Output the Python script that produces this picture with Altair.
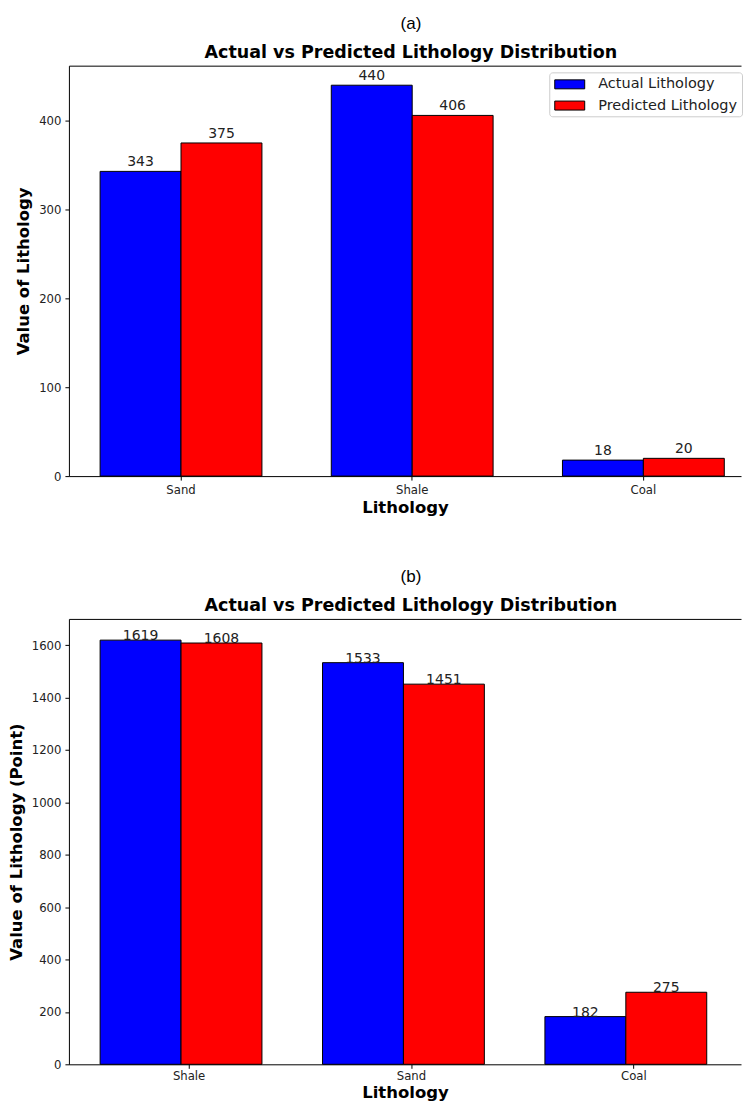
import altair as alt
import pandas as pd

# ---- data ----
series = ["Actual Lithology", "Predicted Lithology"]
series_colors = ["#0000ff", "#ff0000"]

cats_a = ["Sand", "Shale", "Coal"]
actual_a = [343, 440, 18]
pred_a = [375, 406, 20]
yticks_a = [0, 100, 200, 300, 400]

cats_b = ["Shale", "Sand", "Coal"]
actual_b = [1619, 1533, 182]
pred_b = [1608, 1451, 275]
yticks_b = [0, 200, 400, 600, 800, 1000, 1200, 1400, 1600]

main_title = "Actual vs Predicted Lithology Distribution"


def make_df(cats, act, pred):
    rows = []
    for c, a, p in zip(cats, act, pred):
        rows.append({"Lithology": c, "Series": series[0], "Value": a})
        rows.append({"Lithology": c, "Series": series[1], "Value": p})
    return pd.DataFrame(rows)


FONT = "DejaVu Sans"
SYMBOL = "M-2,-0.6H2V0.6H-2Z"   # wide legend patch
PLOT_W = 673


def panel(df, cats, tag, ytitle, ymax, yticks, height, pin, pout, align, label_dy,
          xlabpad, xtitlepad):
    xscale = alt.Scale(domain=cats, paddingInner=pin, paddingOuter=pout, align=align)
    xo = alt.XOffset("Series:N", sort=series,
                     scale=alt.Scale(domain=series, paddingInner=0, paddingOuter=0))
    yscale = alt.Scale(domain=[0, ymax], nice=False, zero=True)
    bars = alt.Chart(df).mark_bar(stroke="black", strokeWidth=1).encode(
        x=alt.X("Lithology:N", sort=cats, scale=xscale,
                axis=alt.Axis(title="Lithology", labelAngle=0, orient="bottom",
                              labelPadding=xlabpad, titlePadding=xtitlepad)),
        xOffset=xo,
        y=alt.Y("Value:Q", scale=yscale,
                axis=alt.Axis(values=yticks, title=ytitle, grid=False, format="d")),
        color=alt.Color("Series:N", scale=alt.Scale(domain=series, range=series_colors),
                        legend=alt.Legend(title=None, orient="none", legendX=481, legendY=6.7,
                                          fillColor="white", strokeColor="#cccccc",
                                          cornerRadius=3, padding=4,
                                          symbolType=SYMBOL, symbolSize=225,
                                          symbolOffset=8.5,
                                          symbolStrokeColor="black", symbolStrokeWidth=1,
                                          symbolOpacity=1,
                                          labelFont=FONT, labelFontSize=14.5,
                                          labelColor="#222222", labelOffset=20.5,
                                          rowPadding=6.25)),
    )
    text = alt.Chart(df).mark_text(baseline="alphabetic", align="center", dy=label_dy,
                                   font=FONT, fontSize=14, color="#222222").encode(
        x=alt.X("Lithology:N", sort=cats, scale=xscale,
                axis=alt.Axis(orient="top", labels=False, ticks=False, title=None,
                              domain=True)),
        xOffset=xo,
        y=alt.Y("Value:Q", scale=yscale),
        text=alt.Text("Value:Q", format="d"),
    )
    return alt.layer(bars, text).resolve_axis(x="independent").properties(
        width=PLOT_W, height=height,
        title=alt.TitleParams(text=tag, subtitle=main_title, anchor="middle", dx=6,
                              font="Liberation Sans", fontSize=17, fontWeight="normal",
                              color="black", subtitleFont=FONT, subtitleFontSize=17.5,
                              subtitleFontWeight="bold", subtitleColor="black",
                              subtitlePadding=11.5, offset=3),
    )


pa = panel(make_df(cats_a, actual_a, pred_a), cats_a, "(a)", "Value of Lithology",
           462, yticks_a, 411, 0.3, 0.1036, 0.651, -5, 4, 4)
pb = panel(make_df(cats_b, actual_b, pred_b), cats_b, "(b)", "Value of Lithology (Point)",
           1700, yticks_b, 446, 0.2, 0.111, 0.632, 0, 2, 3)

chart = alt.vconcat(pa, pb, spacing=51).properties(
    padding={"left": 0, "top": 6, "right": 0, "bottom": 0}
).configure_view(stroke=None).configure_axis(
    domainColor="black", tickColor="black", tickSize=4, labelPadding=4,
    labelFont=FONT, labelFontSize=11.7, labelColor="#222222",
    titleFont=FONT, titleFontSize=16.5, titleFontWeight="bold", titleColor="black",
    titlePadding=6.7,
)

chart.save("out.html", embed_options={"renderer": "svg", "actions": False})
